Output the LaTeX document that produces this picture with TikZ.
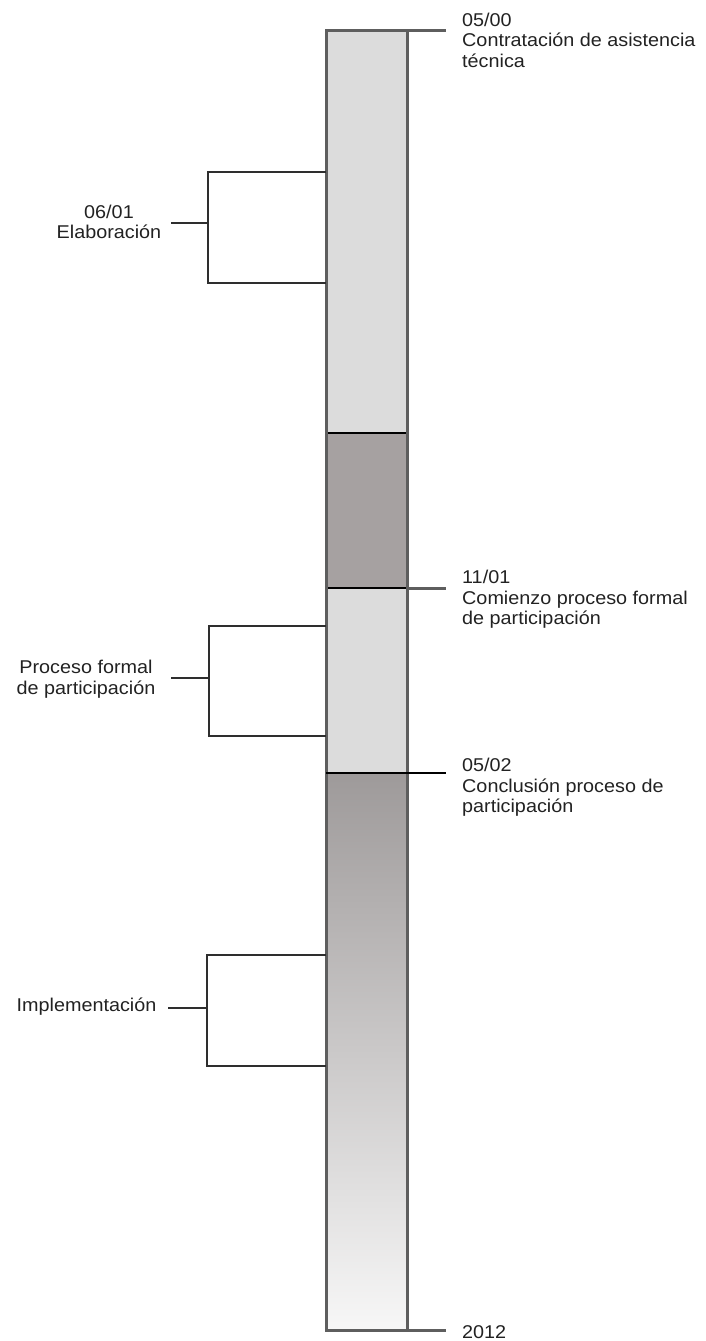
\documentclass[tikz,border=0pt]{standalone}
\usepackage{fontspec}
\setmainfont{Liberation Sans}[FakeStretch=1.07]
\definecolor{segLight}{HTML}{DCDCDC}
\definecolor{segDark}{HTML}{A6A1A1}
\definecolor{gradTop}{HTML}{9E9A9A}
\definecolor{gradBot}{HTML}{F7F7F7}
\definecolor{edgeGray}{HTML}{5E5E5E}
\definecolor{brkGray}{HTML}{2E2E2E}
\definecolor{txtGray}{HTML}{222222}
\begin{document}
\begin{tikzpicture}[x=1pt,y=-1pt,
  lbl/.style={font=\fontsize{18.5}{20.5}\selectfont, text=txtGray, inner sep=0pt},
  brk/.style={draw=brkGray, line width=2.3pt},
  tickline/.style={draw=edgeGray, line width=3pt},
  divline/.style={draw=black, line width=2.5pt}]
\useasboundingbox (0,0) rectangle (706,1341);
% bar corners
\coordinate (barTL) at (326,30);
\coordinate (barBR) at (407,1330);
% segments
\fill[segLight] (326,30) rectangle (407,433);
\fill[segDark] (326,433) rectangle (407,588);
\fill[segLight] (326,588) rectangle (407,773);
\shade[top color=gradTop, bottom color=gradBot] (326,773) rectangle (407,1330);
% dividers
\coordinate (d1L) at (326,433); \coordinate (d1R) at (407,433);
\coordinate (d2L) at (326,588); \coordinate (d2R) at (407,588);
\coordinate (d3L) at (326,773); \coordinate (d3R) at (407,773);
\draw[divline] (d1L) -- (d1R);
\draw[divline] (d2L) -- (d2R);
% outline
\draw[edgeGray, line width=3pt] (barTL) rectangle (barBR);
% right ticks
\coordinate (r0a) at (407,30);   \coordinate (r0b) at (446,30);
\coordinate (r1b) at (446,588);
\coordinate (r2b) at (446,773);
\coordinate (r3a) at (407,1330); \coordinate (r3b) at (446,1330);
\draw[tickline] (r0a) -- (r0b);
\draw[tickline] (d2R) -- (r1b);
\draw[divline] (d3L) -- (r2b);
\draw[tickline] (r3a) -- (r3b);
% right labels
\node[lbl, align=left, anchor=north west] (lab0) at (462,12.5) {05/00\\Contratación de asistencia\\técnica};
\node[lbl, align=left, anchor=north west] (lab1) at (462,570) {11/01\\Comienzo proceso formal\\de participación};
\node[lbl, align=left, anchor=north west] (lab2) at (462,758) {05/02\\Conclusión proceso de\\participación};
\node[lbl, align=left, anchor=north west] (lab3) at (462,1325) {2012};
% left brackets
\coordinate (b1t) at (326,172); \coordinate (b1tl) at (208,172);
\coordinate (b1bl) at (208,283); \coordinate (b1b) at (326,283);
\coordinate (b1m) at (208,223); \coordinate (b1s) at (171,223);
\draw[brk] (b1t) -- (b1tl) -- (b1bl) -- (b1b);
\draw[brk] (b1s) -- (b1m);
\node[lbl, align=center] (elab) at (109,222) {06/01\\Elaboración};

\coordinate (b2t) at (326,626); \coordinate (b2tl) at (209,626);
\coordinate (b2bl) at (209,736); \coordinate (b2b) at (326,736);
\coordinate (b2m) at (209,678); \coordinate (b2s) at (171,678);
\draw[brk] (b2t) -- (b2tl) -- (b2bl) -- (b2b);
\draw[brk] (b2s) -- (b2m);
\node[lbl, align=center] (proc) at (86,679) {Proceso formal\\de participación};

\coordinate (b3t) at (326,955); \coordinate (b3tl) at (207,955);
\coordinate (b3bl) at (207,1066); \coordinate (b3b) at (326,1066);
\coordinate (b3m) at (207,1008); \coordinate (b3s) at (168,1008);
\draw[brk] (b3t) -- (b3tl) -- (b3bl) -- (b3b);
\draw[brk] (b3s) -- (b3m);
\node[lbl, anchor=base] (impl) at (86.5,1011.5) {Implementación};
\end{tikzpicture}
\end{document}
